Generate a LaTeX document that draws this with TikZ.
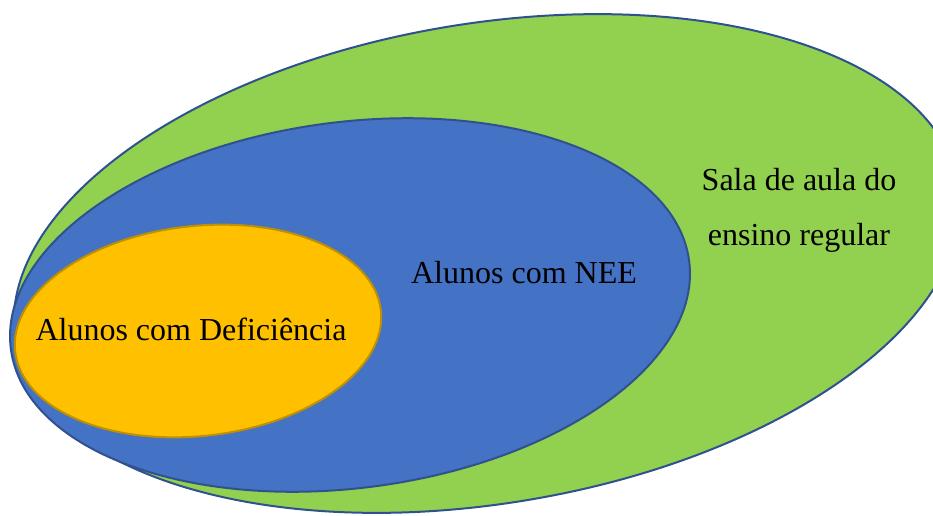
\documentclass[tikz,border=0pt]{standalone}
\usepackage{fontspec}
\setmainfont{Liberation Serif}
\usepackage{tikz}
\usepackage{xcolor}
\usetikzlibrary{positioning}

\definecolor{verde}{HTML}{92D050}
\definecolor{azul}{HTML}{4472C4}
\definecolor{laranja}{HTML}{FFC000}
\definecolor{bordaazul}{HTML}{2F528F}
\definecolor{bordalaranja}{HTML}{BF9000}

\begin{document}
\begin{tikzpicture}[x=1pt,y=1pt,
                    conjunto/.style={line width=2pt}]
  \tikzstyle{rotulo}=[font=\fontsize{32}{55}\selectfont,align=center,text=black]

  \useasboundingbox (0,0) rectangle (933,515);

  % sala, NEE, deficiencia
  \filldraw[conjunto,fill=verde,draw=bordaazul,rotate around={9.4:(487,251.5)}]
    (487,251.5) ellipse [x radius=478,y radius=240];
  \filldraw[conjunto,fill=azul,draw=bordaazul,rotate around={7.4:(350,210)}]
    (350,210) ellipse [x radius=342,y radius=183];
  \filldraw[conjunto,fill=laranja,draw=bordalaranja,rotate around={6.4:(198,184)}]
    (198,184) ellipse [x radius=184,y radius=105];

  \node[rotulo] (sala) at (799,305) {Sala de aula do\\ensino regular};
  \node[rotulo] (nee)  at (524,242) {Alunos com NEE};
  \node[rotulo] (def)  at (191,186) {Alunos com Deficiência};
\end{tikzpicture}
\end{document}
